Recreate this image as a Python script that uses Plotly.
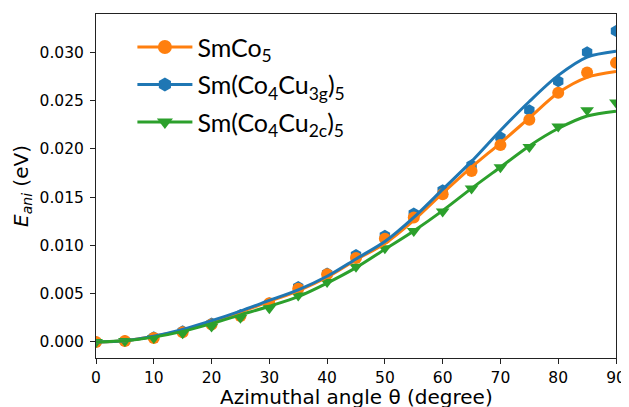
import plotly.graph_objects as go

theta = [0, 5, 10, 15, 20, 25, 30, 35, 40, 45, 50, 55, 60, 65, 70, 75, 80, 85, 90]

# DFT data points
smco5_pts = [0.0, 0.0001, 0.0004, 0.0010, 0.0018, 0.0027, 0.0040, 0.0055, 0.0070, 0.0087,
             0.0107, 0.0129, 0.0153, 0.0177, 0.0204, 0.0230, 0.0258, 0.0279, 0.0289]
cu3g_pts = [0.0, 0.0001, 0.0005, 0.0011, 0.0019, 0.0028, 0.0040, 0.0057, 0.0071, 0.0090,
            0.0110, 0.0133, 0.0157, 0.0183, 0.0212, 0.0240, 0.0270, 0.0300, 0.0322]
cu2c_pts = [0.0, 0.0001, 0.0004, 0.0009, 0.0016, 0.0025, 0.0035, 0.0048, 0.0062, 0.0078,
            0.0097, 0.0115, 0.0135, 0.0159, 0.0181, 0.0202, 0.0223, 0.0240, 0.0248]

# Fitted curves (read at the same angles)
smco5_fit = [0.0, 0.00013, 0.0006, 0.0012, 0.0021, 0.0031, 0.0042, 0.0053, 0.0067, 0.0085,
             0.0102, 0.0126, 0.0154, 0.0181, 0.0206, 0.0232, 0.0258, 0.0274, 0.0280]
cu3g_fit = [0.0, 0.00013, 0.0006, 0.0013, 0.0022, 0.0032, 0.0043, 0.0054, 0.0068, 0.0086,
            0.0104, 0.0129, 0.0158, 0.0187, 0.0219, 0.0249, 0.0276, 0.0295, 0.0301]
cu2c_fit = [0.0, 0.00012, 0.0005, 0.0011, 0.0019, 0.0028, 0.0037, 0.0047, 0.0061, 0.0077,
            0.0096, 0.0115, 0.0136, 0.0159, 0.0181, 0.0203, 0.0221, 0.0234, 0.0239]

names = ["SmCo<sub>5</sub>",
         "Sm(Co<sub>4</sub>Cu<sub>3g</sub>)<sub>5</sub>",
         "Sm(Co<sub>4</sub>Cu<sub>2c</sub>)<sub>5</sub>"]
colors = ["#ff7f0e", "#1f77b4", "#2ca02c"]
symbols = ["circle", "hexagon", "triangle-down"]
pts = [smco5_pts, cu3g_pts, cu2c_pts]
fits = [smco5_fit, cu3g_fit, cu2c_fit]

fig = go.Figure()

# markers (blue, orange, green draw order)
for i in [1, 0, 2]:
    fig.add_trace(go.Scatter(x=theta, y=pts[i], mode="markers", showlegend=False,
                             marker=dict(symbol=symbols[i], size=12, color=colors[i],
                                         line=dict(width=0))))
# fitted lines
for i in [0, 1, 2]:
    fig.add_trace(go.Scatter(x=theta, y=fits[i], mode="lines", showlegend=False,
                             line=dict(color=colors[i], width=3, shape="spline", smoothing=0.8)))
# legend entries
for i in [0, 1, 2]:
    fig.add_trace(go.Scatter(x=[None], y=[None], mode="lines+markers", name=names[i],
                             legendgroup="g%d" % i,
                             line=dict(color=colors[i], width=3),
                             marker=dict(symbol=symbols[i], size=14, color=colors[i],
                                         line=dict(width=0))))

axis_common = dict(showline=True, linecolor="#222", linewidth=1, mirror=True,
                   ticks="outside", ticklen=5, tickwidth=1, tickcolor="#222",
                   showgrid=False, zeroline=False, automargin=False,
                   tickfont=dict(family="DejaVu Sans", size=15.5, color="black"))

fig.update_xaxes(range=[0, 90], dtick=10, tick0=0, ticklabelstandoff=0, **axis_common)
fig.update_yaxes(range=[-0.00166, 0.03396], dtick=0.005, tick0=0, tickformat=".3f",
                 ticklabelstandoff=3,
                 title=dict(text="<i>E<sub>ani</sub></i> (eV)", standoff=5,
                            font=dict(family="DejaVu Sans", size=20, color="black")),
                 **axis_common)

# x-axis title placed as an annotation below the tick labels
fig.add_annotation(text="Azimuthal angle θ (degree)", xref="paper", yref="paper",
                   x=0.5, y=-0.113, xanchor="center", yanchor="middle", showarrow=False,
                   font=dict(family="DejaVu Sans", size=20, color="black"))

# page body has an 8px margin, so the figure is 8px smaller and margins adjusted
fig.update_layout(
    width=621, height=399,
    margin=dict(l=88, r=13, t=6, b=49),
    plot_bgcolor="white", paper_bgcolor="white",
    legend=dict(x=0.07, y=0.97, xanchor="left", yanchor="top",
                font=dict(family="Lato", size=25, color="black"),
                bgcolor="rgba(0,0,0,0)", itemwidth=55,
                traceorder="grouped", tracegroupgap=2),
)

fig.write_html("out.html")
